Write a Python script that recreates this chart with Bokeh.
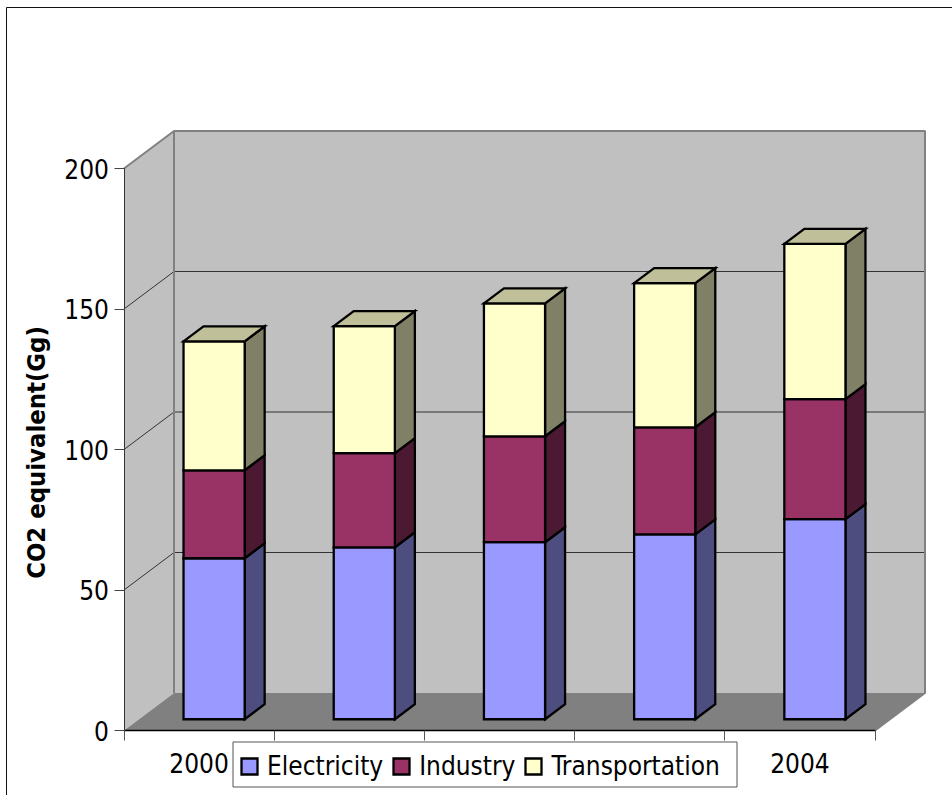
from math import pi

from bokeh.core.properties import value
from bokeh.embed import file_html
from bokeh.resources import INLINE
from bokeh.plotting import figure
from bokeh.models import Range1d, LinearAxis, FixedTicker, Legend, LegendItem

years = ["2000", "2001", "2002", "2003", "2004"]
shown_year_labels = {0.5: "2000", 4.5: "2004"}
electricity = [57.3, 61.2, 63.0, 65.8, 71.2]
industry = [31.3, 33.5, 37.7, 38.1, 42.7]
transportation = [45.9, 45.2, 47.3, 51.3, 55.3]
value_ticks = [0, 50, 100, 150, 200]
value_title = "CO2 equivalent(Gg)"

series = [
    ("Electricity", electricity, "#9999FF", "#4D4D80"),
    ("Industry", industry, "#993366", "#4C1933"),
    ("Transportation", transportation, "#FFFFCC", "#808066"),
]
top_colour = "#BFBF99"

WIDTH, HEIGHT = 952, 795
SLOT_PX = 150.2          # width of one year along the front edge
UNIT_PX = 2.81           # pixels per Gg on the front plane
ORIGIN_X, ORIGIN_Y = 123.5, 730.0
DEPTH_X = 50.0 / SLOT_PX  # oblique offset of the back wall, in data units
DEPTH_Y = 37.5 / UNIT_PX
BAR_WIDTH = 0.407
BAR_FRONT, BAR_BACK = 0.3, 0.7
FONT = "DejaVu Sans Condensed"
NSLOTS = len(years)
TOP = value_ticks[-1]


def px_x(px):
    return (px - ORIGIN_X) / SLOT_PX


def px_y(px):
    return (ORIGIN_Y - px) / UNIT_PX


p = figure(
    width=WIDTH, height=HEIGHT, output_backend="svg", toolbar_location=None,
    x_range=Range1d(px_x(0), px_x(WIDTH)), y_range=Range1d(px_y(HEIGHT), px_y(0)),
    x_axis_location=None, y_axis_location=None, min_border=0,
)
p.grid.visible = False
p.outline_line_color = None
p.background_fill_color = "white"

# Chart area border: only the left and top edges fall inside the page
p.line([px_x(6), px_x(6), px_x(WIDTH)], [px_y(HEIGHT), px_y(7), px_y(7)],
       line_color="#111111", line_width=1)

# Walls and floor of the oblique box
WALL = "#C0C0C0"
EDGE = "#808080"
p.patch([0, DEPTH_X, DEPTH_X, 0], [0, DEPTH_Y, TOP + DEPTH_Y, TOP], fill_color=WALL, line_color=None)
p.quad(left=DEPTH_X, right=NSLOTS + DEPTH_X, bottom=DEPTH_Y, top=TOP + DEPTH_Y, fill_color=WALL, line_color=None)
p.patch([0, NSLOTS, NSLOTS + DEPTH_X, DEPTH_X], [0, 0, DEPTH_Y, DEPTH_Y], fill_color=EDGE, line_color=None)

# Gridlines run across the side wall and then along the back wall
grid = [v for v in value_ticks[1:-1]]
p.multi_line([[0, DEPTH_X, NSLOTS + DEPTH_X] for _ in grid],
             [[v, v + DEPTH_Y, v + DEPTH_Y] for v in grid],
             line_color="#333333", line_width=1)

# Wall edges
p.line([0, DEPTH_X, NSLOTS + DEPTH_X, NSLOTS + DEPTH_X, NSLOTS],
       [TOP, TOP + DEPTH_Y, TOP + DEPTH_Y, DEPTH_Y, 0], line_color=EDGE, line_width=2)
p.line([DEPTH_X, DEPTH_X], [DEPTH_Y, TOP + DEPTH_Y], line_color=EDGE, line_width=2)

# Stacked bars: side faces and lids are skewed copies of the front faces
legend_items = []
base = [BAR_FRONT * DEPTH_Y] * NSLOTS
left = [i + (1 - BAR_WIDTH) / 2 + BAR_FRONT * DEPTH_X for i in range(NSLOTS)]
right = [x + BAR_WIDTH for x in left]
dx = (BAR_BACK - BAR_FRONT) * DEPTH_X
dy = (BAR_BACK - BAR_FRONT) * DEPTH_Y
OUTLINE = dict(line_color="black", line_width=2.3, line_join="miter")
for name, values, front, side in series:
    tops = [b + v for b, v in zip(base, values)]
    p.patches([[r, r + dx, r + dx, r] for r in right],
              [[b, b + dy, t + dy, t] for b, t in zip(base, tops)],
              fill_color=side, **OUTLINE)
    bars = p.quad(left=left, right=right, bottom=base, top=tops, fill_color=front, **OUTLINE)
    legend_items.append(LegendItem(label=name, renderers=[bars]))
    base = tops
p.patches([[l, l + dx, r + dx, r] for l, r in zip(left, right)],
          [[t, t + dy, t + dy, t] for t in base],
          fill_color=top_colour, **OUTLINE)

# Value axis on the front plane
y_axis = LinearAxis(
    fixed_location=0, bounds=(0, TOP), ticker=FixedTicker(ticks=value_ticks),
    major_label_text_font=FONT, major_label_text_font_size="26px", major_label_text_color="black",
    major_label_standoff=5, major_tick_out=10, major_tick_in=0, minor_tick_line_color=None,
    axis_line_color="#333333", axis_line_width=1, major_tick_line_color="#444444", major_tick_line_width=1,
)
p.add_layout(y_axis, "left")

# Axis title, centred on the plot box rather than on the axis
p.text(x=[px_x(35)], y=[px_y(452)], text=[value_title], angle=pi / 2,
       text_font=value(FONT), text_font_size="25.4px", text_font_style="bold",
       text_color="black", text_align="center", text_baseline="middle")

# Category axis: minor ticks mark the slot boundaries, labels sit under the slot centres
x_axis = LinearAxis(
    fixed_location=0, bounds=(0, NSLOTS),
    ticker=FixedTicker(ticks=list(shown_year_labels), minor_ticks=list(range(NSLOTS + 1))),
    major_label_overrides=shown_year_labels,
    major_label_text_font=FONT, major_label_text_font_size="26px", major_label_text_color="black",
    major_label_standoff=12, major_tick_out=0, major_tick_in=0, major_tick_line_color=None,
    minor_tick_out=10, minor_tick_in=0, minor_tick_line_color="#555555", minor_tick_line_width=1,
    axis_line_color="black", axis_line_width=1.5,
)
p.add_layout(x_axis, "below")

# Legend panel, wider than the entries it holds
p.quad(left=px_x(232.5), right=px_x(736.5), bottom=px_y(786.5), top=px_y(741.5),
       fill_color="white", line_color="#555555", line_width=1)

legend = Legend(
    items=legend_items, orientation="horizontal", location=(232, HEIGHT - 788), margin=0,
    padding=7, spacing=8, label_standoff=8, glyph_width=20, glyph_height=20,
    label_text_font=FONT, label_text_font_size="26px", label_text_color="black",
    background_fill_alpha=0, border_line_color="white", border_line_alpha=0,
)
p.add_layout(legend, "center")

open("out.html", "w").write(file_html(p, INLINE))
